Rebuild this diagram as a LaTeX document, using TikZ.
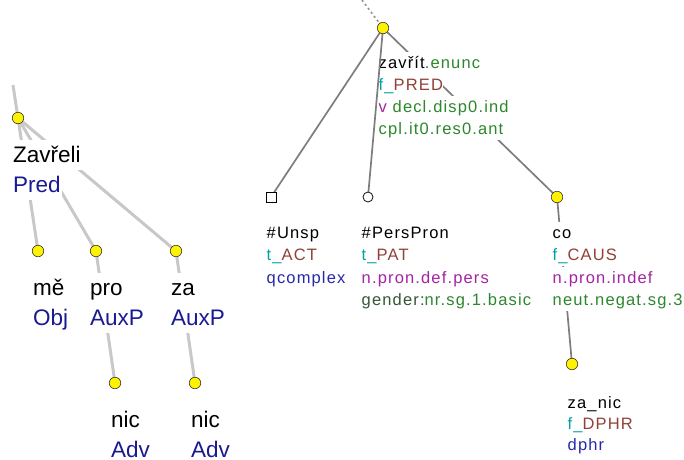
\documentclass[tikz,border=0pt]{standalone}
\usepackage{fontspec}
\setmainfont{Liberation Sans}
\newfontfamily\tfont[LetterSpace=7]{Liberation Sans}
\usetikzlibrary{calc}

\definecolor{afun}{RGB}{25,25,145}
\definecolor{aline}{RGB}{200,200,200}
\definecolor{tline}{RGB}{125,125,125}
\definecolor{tgreen}{RGB}{45,135,45}
\definecolor{tdkgreen}{RGB}{55,85,55}
\definecolor{tteal}{RGB}{0,160,165}
\definecolor{tbrown}{RGB}{145,65,55}
\definecolor{tpurple}{RGB}{165,35,165}
\definecolor{tblue}{RGB}{40,40,170}

\tikzset{
    aedge/.style={draw=aline, line width=3pt},
    tedge/.style={draw=tline, line width=1.7pt},
    dot/.style={circle, fill=yellow, draw=black!80, line width=0.6pt, inner sep=0pt, minimum size=11.5pt},
    arow/.style={anchor=base west, fill=white, inner sep=1pt, text height=21pt, text depth=6.5pt, font=\fontsize{22.5}{27}\selectfont},
    trow/.style={anchor=base west, fill=white, inner sep=0.5pt, text height=15.5pt, text depth=5.5pt, font=\tfont\fontsize{16.5}{20}\selectfont},
}

\begin{document}
\begin{tikzpicture}[x=1pt, y=-1pt]
    \useasboundingbox (0,0) rectangle (684,459);

    % a-tree
    \coordinate (aTop) at (13, 85);
    \coordinate (aRoot) at (18, 118);
    \coordinate (aMe) at (38, 251);
    \coordinate (aPro) at (96, 251);
    \coordinate (aZa) at (176, 251);
    \coordinate (aNicA) at (115, 383);
    \coordinate (aNicB) at (195, 383);

    \draw[aedge] (aTop) -- (aRoot);
    \draw[aedge] (aRoot) -- (aMe);
    \draw[aedge] (aRoot) -- (aPro);
    \draw[aedge] (aRoot) -- (aZa);
    \draw[aedge] (aPro) -- (aNicA);
    \draw[aedge] (aZa) -- (aNicB);

    \node[arow] (zavreli) at (12, 162) {Zavřeli};
    \node[arow] (pred) at (12, 192) {\color{afun}Pred};
    \node[arow] (me) at (32, 295) {mě};
    \node[arow] (obj) at (32, 325) {\color{afun}Obj};
    \node[arow] (pro) at (89, 295) {pro};
    \node[arow] (auxpA) at (89, 325) {\color{afun}AuxP};
    \node[arow] (za) at (170, 295) {za};
    \node[arow] (auxpB) at (170, 325) {\color{afun}AuxP};
    \node[arow] (nicA) at (110, 427) {nic};
    \node[arow] (advA) at (110, 457) {\color{afun}Adv};
    \node[arow] (nicB) at (190, 427) {nic};
    \node[arow] (advB) at (190, 457) {\color{afun}Adv};

    \foreach \n in {aRoot, aMe, aPro, aZa, aNicA, aNicB}
        \node[dot] (d\n) at (\n) {};

    % t-tree
    \coordinate (tTop) at (362, 0);
    \coordinate (tRoot) at (383, 28);
    \coordinate (tUnsp) at (271, 197);
    \coordinate (tPers) at (368, 197);
    \coordinate (tCo) at (557, 197);
    \coordinate (tZanic) at (572, 364);

    \draw[draw=black!45, line width=1.5pt, dash pattern=on 2pt off 3pt] (tTop) -- (tRoot);
    \draw[tedge] (tRoot) -- (tUnsp);
    \draw[tedge] (tRoot) -- (tCo);
    \draw[tedge] (tCo) -- (tZanic);

    \node[trow] (zavrit) at (378, 68) {zavřít\textcolor{tgreen}{.enunc}};
    \node[trow] (fpred) at (378, 90) {\textcolor{tteal}{f\_}\textcolor{tbrown}{PRED}};
    \node[trow] (vdecl) at (378, 112) {\textcolor{tpurple}{v} \textcolor{tgreen}{decl.disp0.ind}};
    \node[trow] (cpl) at (378, 134) {\textcolor{tgreen}{cpl.it0.res0.ant}};

    \node[trow] (unsp) at (266, 238) {\#Unsp};
    \node[trow] (tact) at (266, 260) {\textcolor{tteal}{t\_}\textcolor{tbrown}{ACT}};
    \node[trow] (qcomplex) at (266, 283) {\textcolor{tblue}{qcomplex}};

    \node[trow] (perspron) at (361, 238) {\#PersPron};
    \node[trow] (tpat) at (361, 260) {\textcolor{tteal}{t\_}\textcolor{tbrown}{PAT}};
    \node[trow] (npers) at (361, 283) {\textcolor{tpurple}{n.pron.def.pers}};
    \node[trow] (gender) at (361, 305) {\textcolor{tdkgreen}{gender:}\textcolor{tgreen}{nr.sg.1.basic}};

    \node[trow] (co) at (552, 238) {co};
    \node[trow] (fcaus) at (552, 260) {\textcolor{tteal}{f\_}\textcolor{tbrown}{CAUS}};
    \node[trow] (nindef) at (552, 283) {\textcolor{tpurple}{n.pron.indef}};
    \node[trow] (neut) at (552, 305) {\textcolor{tgreen}{neut.negat.sg.3}};

    \node[trow] (zanic) at (567, 408) {za\_nic};
    \node[trow] (fdphr) at (567, 429) {\textcolor{tteal}{f\_}\textcolor{tbrown}{DPHR}};
    \node[trow] (dphr) at (567, 450) {\textcolor{tblue}{dphr}};

    % this edge runs along the left of the root label
    \draw[tedge] (tRoot) -- (tPers);

    \node[dot] (dRoot) at (tRoot) {};
    \node[dot] (dCo) at (tCo) {};
    \node[dot] (dZanic) at (tZanic) {};
    \node[draw=black, fill=white, line width=0.8pt, minimum size=10pt, inner sep=0pt] (dUnsp) at (tUnsp) {};
    \node[circle, draw=black!85, fill=white, line width=0.9pt, minimum size=10pt, inner sep=0pt] (dPers) at (tPers) {};
\end{tikzpicture}
\end{document}
